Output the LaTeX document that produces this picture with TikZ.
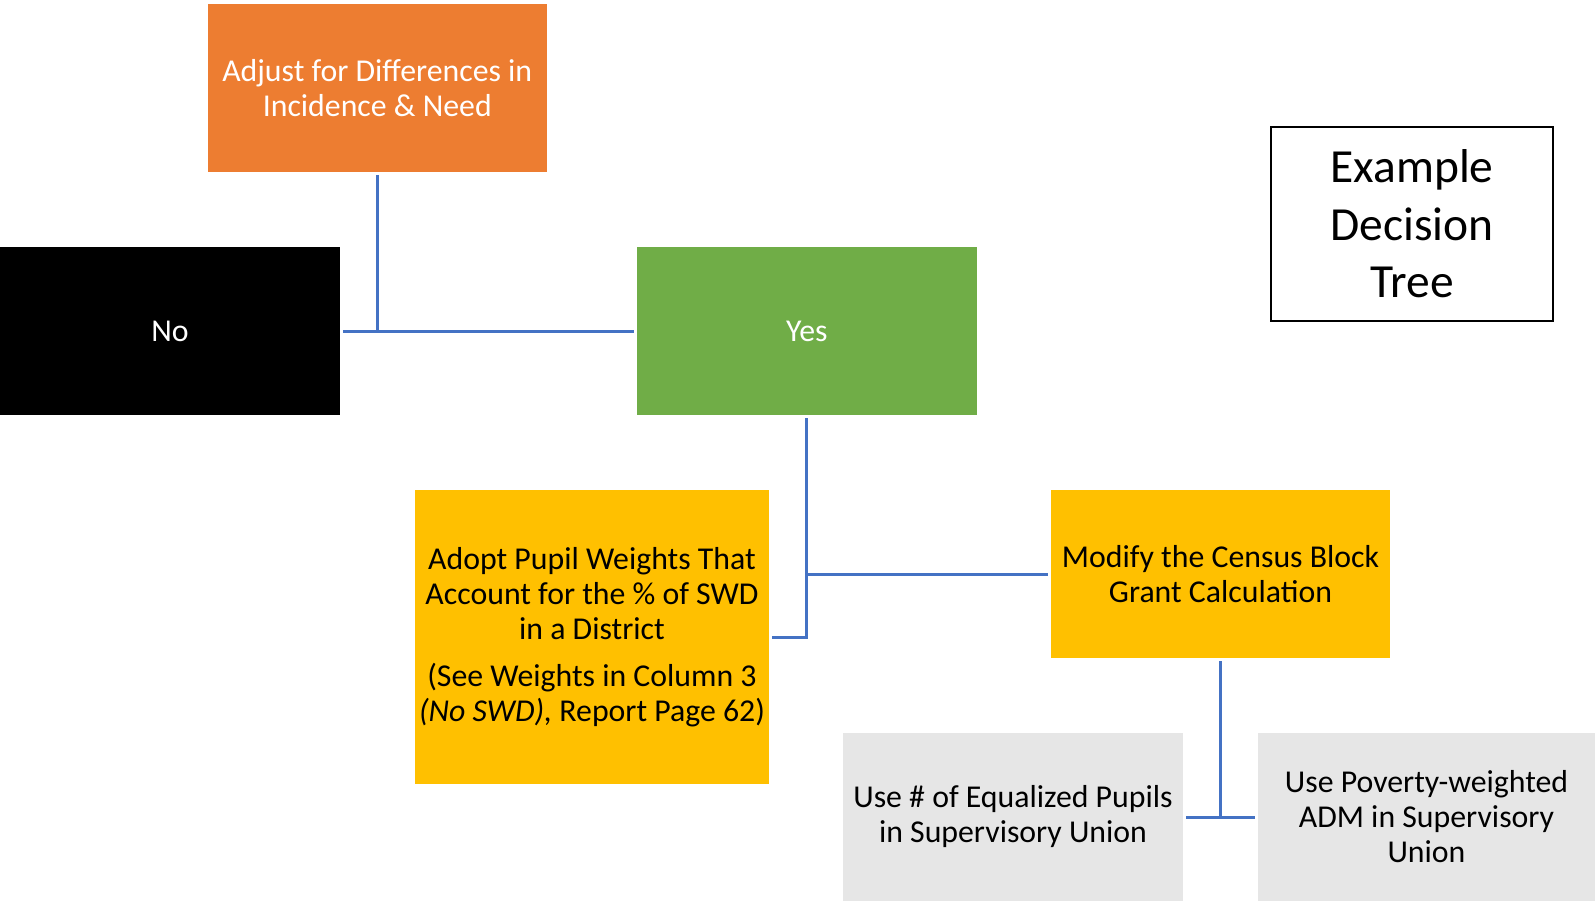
\documentclass[tikz,border=0pt]{standalone}
\usepackage{fontspec}
\setmainfont{Carlito}
\definecolor{cOrange}{HTML}{ED7D31}
\definecolor{cGreen}{HTML}{70AD47}
\definecolor{cYellow}{HTML}{FFC000}
\definecolor{cGray}{HTML}{E6E6E6}
\definecolor{cBlue}{HTML}{4472C4}
\tikzset{
  boxbase/.style={rectangle, inner sep=0pt, outer sep=3pt, align=center,
    font=\fontsize{31.8}{35}\selectfont},
  conn/.style={draw=cBlue, line width=3pt},
}
\begin{document}
\begin{tikzpicture}[x=1pt,y=-1pt]
\useasboundingbox[fill=white] (0,0) rectangle (1595,904);
\node[boxbase, fill=cOrange, text=white, minimum width=339.5pt, minimum height=168pt] (adj) at (377.25,88) {Adjust for Differences in\\Incidence \& Need};
\node[boxbase, fill=black, text=white, minimum width=340pt, minimum height=168pt] (no) at (170,331) {No};
\node[boxbase, fill=cGreen, text=white, minimum width=339.5pt, minimum height=168pt] (yes) at (806.75,331) {Yes};
\node[boxbase, fill=cYellow, text=black, minimum width=354pt, minimum height=294pt] (adopt) at (592,637) {Adopt Pupil Weights That\\Account for the \% of SWD\\in a District\\[12pt](See Weights in Column 3\\\textit{(No SWD),} Report Page 62)};
\node[boxbase, fill=cYellow, text=black, minimum width=339pt, minimum height=168pt] (modify) at (1220.5,574) {Modify the Census Block\\Grant Calculation};
\node[boxbase, fill=cGray, text=black, minimum width=340pt, minimum height=168pt] (equal) at (1013,817) {Use \# of Equalized Pupils\\in Supervisory Union};
\node[boxbase, fill=cGray, text=black, minimum width=337pt, minimum height=168pt] (poverty) at (1426.5,817) {Use Poverty-weighted\\ADM in Supervisory\\Union};
\node[rectangle, draw=black, line width=2pt, fill=white, inner sep=0pt, align=center,
  minimum width=282pt, minimum height=194pt, font=\fontsize{47.5}{57.5}\selectfont] (example) at (1412,224) {Example\\Decision\\Tree};
\draw[conn] (no.east) -- (yes.west);
\draw[conn] (adj.south) -- (adj.south |- no.east);
\draw[conn] (yes.south) |- (adopt.east);
\draw[conn] (yes.south |- modify.west) -- (modify.west);
\draw[conn] (equal.east) -- (poverty.west);
\draw[conn] (modify.south) -- (modify.south |- equal.east);
\end{tikzpicture}
\end{document}
